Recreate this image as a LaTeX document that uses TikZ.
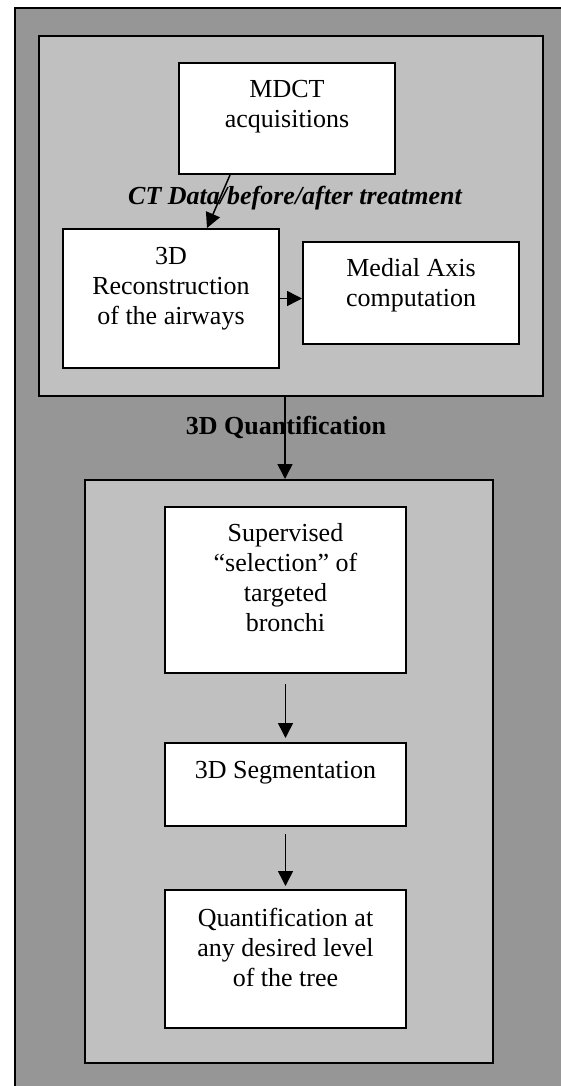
\documentclass[tikz,border=0pt]{standalone}
\usepackage{fontspec}
\setmainfont{Liberation Serif}
\usetikzlibrary{arrows.meta,calc,fit}
\definecolor{outergray}{RGB}{150,150,150}
\definecolor{innergray}{RGB}{192,192,192}
\begin{document}
\begin{tikzpicture}[x=0.5pt,y=-0.5pt,
  frame/.style={draw=black,line width=1.2pt,fill=outergray,inner sep=0pt},
  panel/.style={draw=black,line width=1pt,fill=innergray,inner sep=0pt},
  stepbox/.style={draw=black,line width=1pt,fill=white,inner sep=0pt},
  boxtext/.style={anchor=north,inner sep=0pt,align=center,font=\fontsize{13}{15}\selectfont},
  note/.style={inner sep=0pt,font=\fontsize{13}{15}\selectfont\bfseries},
  arr/.style={-{Triangle[length=7.5pt,width=7.5pt]},line width=0.75pt}
]
\useasboundingbox (0,0) rectangle (561,1086);
\clip (0,0) rectangle (561,1086);

% outer frame running off the page to the right and bottom
\node[frame, fit={(15,8)(585,1110)}] (outer) {};

% upper panel: acquisition and reconstruction
\node[panel, fit={(39,36)(543,396)}] (inner1) {};
\node[stepbox, fit={(179,63)(395,174)}] (mdct) {};
\node[boxtext] (mdct-t) at ($(mdct.north)+(0,18)$) {MDCT\\acquisitions};
\node[stepbox, fit={(63,229)(279,368)}] (recon) {};
\node[boxtext] (recon-t) at ($(recon.north)+(0,19)$) {3D\\Reconstruction\\of the airways};
\node[stepbox, fit={(303,242)(519,344)}] (medial) {};
\node[boxtext] (medial-t) at ($(medial.north)+(0,17)$) {Medial Axis\\computation};
\node[note, font=\fontsize{13}{15}\selectfont\bfseries\itshape] (ctlabel) at (295,198) {CT Data/before/after treatment};

% lower panel: quantification
\node[panel, fit={(85,480)(493,1063)}] (inner2) {};
\node[stepbox, fit={(165,507)(406,673)}] (sel) {};
\node[boxtext] (sel-t) at ($(sel.north)+(0,17)$) {Supervised\\“selection” of\\targeted\\bronchi};
\node[stepbox, fit={(165,743)(406,826)}] (seg) {};
\node[boxtext] (seg-t) at ($(seg.north)+(0,19)$) {3D Segmentation};
\node[stepbox, fit={(165,890)(406,1028)}] (quant) {};
\node[boxtext] (quant-t) at ($(quant.north)+(0,19)$) {Quantification at\\any desired level\\of the tree};

\node[note] (qlabel) at (286,427) {3D Quantification};

% connectors
\draw[arr] ($(mdct.south)+(-57,0)$) -- ($(recon.north)+(36,0)$);
\draw[arr] (recon.east) -- (recon.east -| medial.west);
\draw[arr] ($(inner1.south)+(-6,0)$) coordinate (q0) -- (q0 |- inner2.north);
\draw[arr, shorten <=5pt, shorten >=2pt] (sel) -- (seg);
\draw[arr, shorten <=3.5pt, shorten >=1.5pt] (seg) -- (quant);
\end{tikzpicture}
\end{document}
